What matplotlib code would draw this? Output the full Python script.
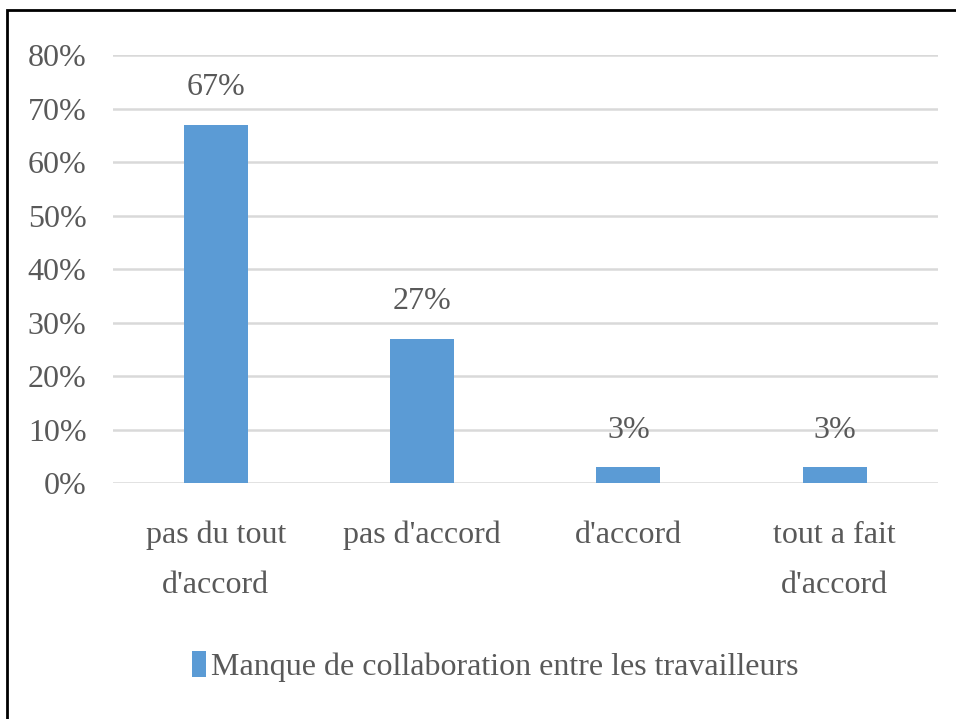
import matplotlib.pyplot as plt
from matplotlib.patches import Rectangle, Patch

categories = ["pas du tout\nd'accord", "pas d'accord", "d'accord", "tout a fait\nd'accord"]
values = [0.67, 0.27, 0.03, 0.03]
value_labels = ["67%", "27%", "3%", "3%"]
series_name = "Manque de collaboration entre les travailleurs"
y_ticks = [0, 0.1, 0.2, 0.3, 0.4, 0.5, 0.6, 0.7, 0.8]
y_tick_labels = ["0%", "10%", "20%", "30%", "40%", "50%", "60%", "70%", "80%"]

bar_color = "#5B9BD5"
text_color = "#595959"

plt.rcParams["font.family"] = ["Liberation Serif", "DejaVu Serif"]

fig = plt.figure(figsize=(9.56, 7.19), dpi=100)
ax = fig.add_axes([0.118, 0.328, 0.863, 0.5955])

x = range(len(categories))
ax.bar(x, values, width=0.31, color=bar_color, zorder=3)

for xi, v, lab in zip(x, values, value_labels):
    ax.annotate(lab, (xi, v), xytext=(0, 16), textcoords="offset points",
                ha="center", va="bottom", fontsize=23, color=text_color)

ax.set_xlim(-0.5, len(categories) - 0.5)
ax.set_ylim(0, 0.8)
ax.set_yticks(y_ticks)
ax.set_yticklabels(y_tick_labels, fontsize=23, color=text_color)
ax.set_xticks(list(x))
ax.set_xticklabels(categories, fontsize=23, color=text_color, linespacing=1.95)
ax.tick_params(axis="both", length=0)
ax.tick_params(axis="y", pad=19)
ax.tick_params(axis="x", pad=27)

ax.grid(axis="y", color="#d9d9d9", linewidth=1.8, zorder=0)
for s in ax.spines.values():
    s.set_visible(False)

handle = Patch(facecolor=bar_color, edgecolor="none")
fig.legend([handle], [series_name], loc="center", bbox_to_anchor=(0.518, 0.073),
           frameon=False, fontsize=23, handlelength=0.45, handleheight=0.9,
           handletextpad=0.15, labelcolor=text_color)

# outer frame (cut off at right and bottom like the reference)
fig.patches.append(Rectangle((0.0073, -0.1), 1.2, 1.086, transform=fig.transFigure,
                             fill=False, edgecolor="black", linewidth=2))

fig.savefig("out.png", dpi=100)
